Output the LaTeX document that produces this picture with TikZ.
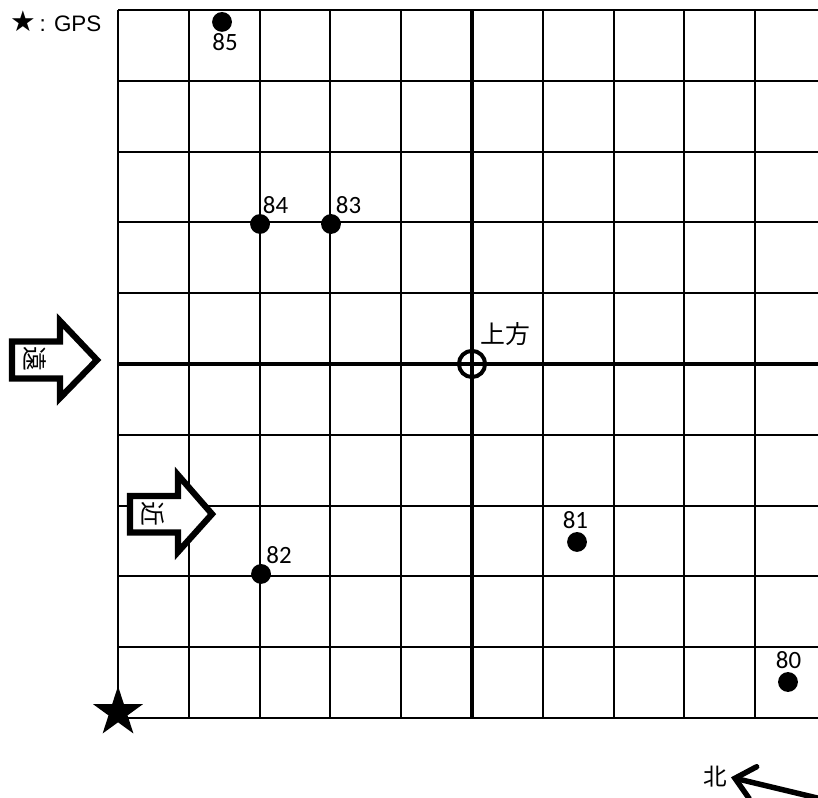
\documentclass[tikz,border=0pt]{standalone}
\usepackage{fontspec}
\setmainfont{Carlito}
\newfontfamily\cjk{Noto Sans CJK JP}
\newfontfamily\arialfont{Liberation Sans}
\newfontfamily\symfont{DejaVu Sans}
\usetikzlibrary{shapes.geometric,arrows.meta}

\begin{document}
\begin{tikzpicture}[
        gridline/.style={line width=0.8pt},
        axisline/.style={line width=1.6pt},
        point/.style={
            circle,
            fill=black,
            inner sep=0pt,
            minimum size=0.28cm
        },
        pointlabel/.style={
            font=\fontsize{10}{12}\selectfont,
            inner sep=1pt
        },
        blockarrow/.style={
            draw=black,
            line width=2.5pt,
            fill=white,
            line join=miter
        },
        arrowtext/.style={
            font=\cjk\fontsize{10}{12}\selectfont,
            rotate=-90,
            inner sep=0pt
        },
        cjklabel/.style={
            font=\cjk\fontsize{10}{12}\selectfont,
            inner sep=0pt
        }
    ]

        \useasboundingbox (-1.667,-1.130) rectangle (9.887,10.141);
        \clip (-1.667,-1.130) rectangle (9.887,10.141);

        \foreach \i in {0,...,10} {
            \draw[gridline] (\i,0) -- (\i,10);
            \draw[gridline] (0,\i) -- (10,\i);
        }
        \draw[axisline] (5,0) -- (5,10);
        \draw[axisline] (0,5) -- (10,5);

        \node[circle, draw=black, line width=1.6pt, minimum size=0.37cm, inner sep=0pt] (above) at (5,5) {};
        \node[cjklabel] (abovetext) at (5.466,5.424) {上方};

        \foreach \n/\px/\py/\lx/\ly in {
            85/1.469/9.831/1.511/9.541,
            84/2.006/6.977/2.225/7.246,
            83/3.008/6.977/3.256/7.246,
            82/2.020/2.034/2.274/2.302,
            81/6.483/2.486/6.460/2.797,
            80/9.463/0.508/9.470/0.812} {
            \node[point] (p\n) at (\px,\py) {};
            \node[pointlabel] (l\n) at (\lx,\ly) {\n};
        }

        \draw[blockarrow] (-1.497,5.318) -- (-0.819,5.318) -- (-0.819,5.607)
            -- (-0.297,5.056) -- (-0.819,4.520) -- (-0.819,4.795)
            -- (-1.497,4.795) -- cycle;
        \node[arrowtext] (far) at (-1.172,5.070) {遠};

        \draw[blockarrow] (0.169,3.136) -- (0.847,3.136) -- (0.847,3.432)
            -- (1.328,2.880) -- (0.847,2.345) -- (0.847,2.620)
            -- (0.169,2.620) -- cycle;
        \node[arrowtext] (near) at (0.494,2.880) {近};

        \node[star, star points=5, star point ratio=2.618, fill=black,
            minimum size=0.74cm, inner sep=0pt] (gps) at (0,0.08) {};

        \node[inner sep=0pt] (legend) at (-0.880,9.845)
            {{\symfont\fontsize{11.5}{12}\selectfont ★}{\arialfont\fontsize{9}{10}\selectfont\,: GPS}};

        \node[cjklabel, font=\cjk\fontsize{9.5}{11}\selectfont] (north) at (8.432,-0.826) {北};
        \coordinate (ntail) at (10.0,-1.16);
        \draw[line width=2.2pt, shorten >=1.5pt, line cap=round,
            -{Straight Barb[length=2.6mm,width=4.6mm,line cap=round]}] (ntail) -- (north.east);

    \end{tikzpicture}
\end{document}
